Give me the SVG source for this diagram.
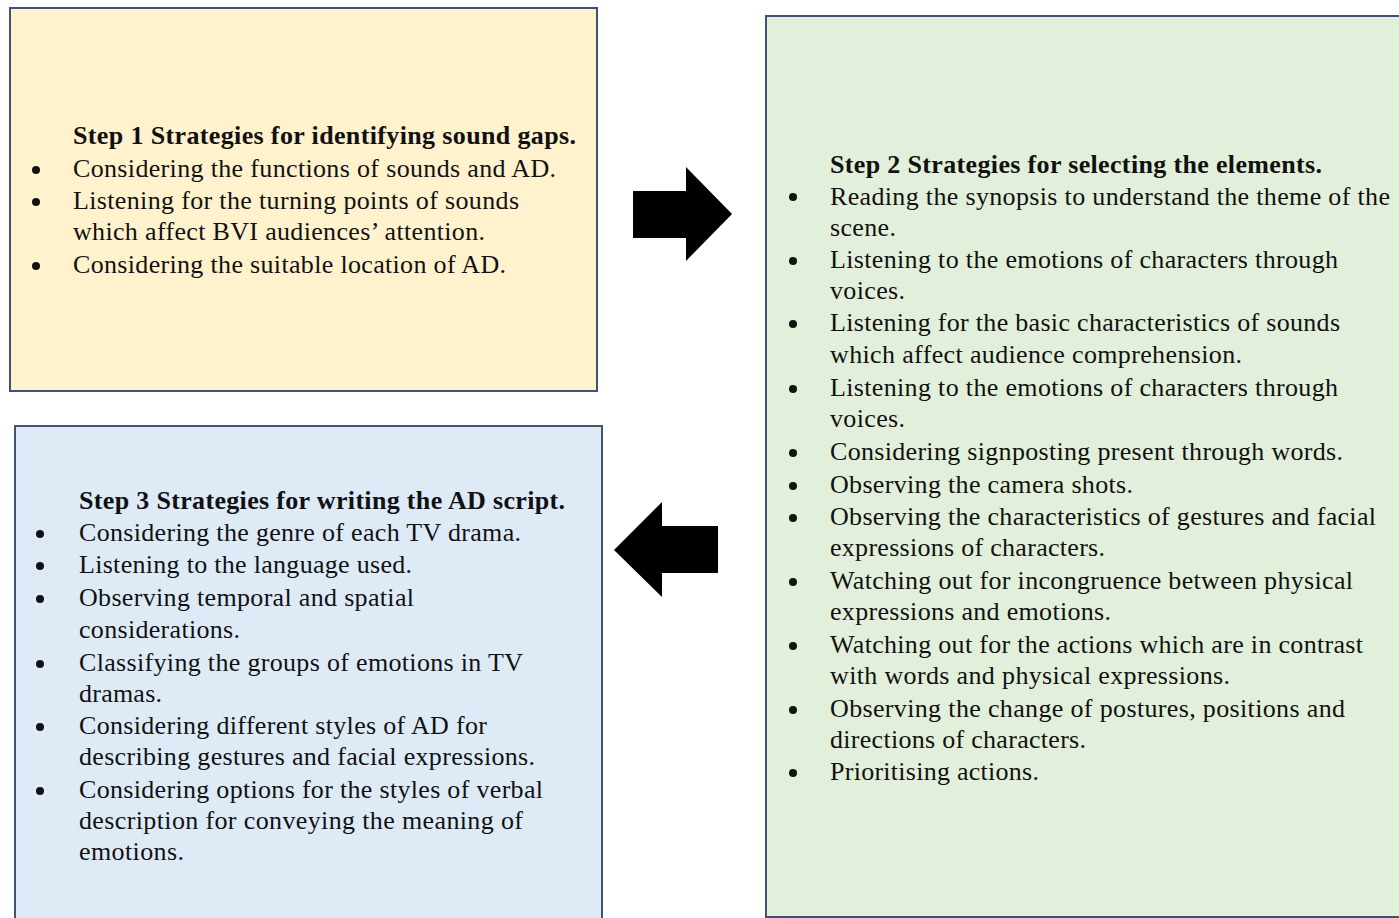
<svg xmlns="http://www.w3.org/2000/svg" width="1399" height="918" viewBox="0 0 1399 918">
<style>
.box{stroke:#3f5378;stroke-width:2}
.t{font-family:"Liberation Serif","Times New Roman",serif;font-size:26px;fill:#111}
.h{font-weight:bold}
.b{fill:#111}
.arrow{fill:#000}
</style>
<rect width="1399" height="918" fill="#fff"/>
<g id="step1">
<rect class="box" x="10" y="8" width="587" height="383" fill="#FFF2CC"/>
<text class="t h" x="73" y="144" textLength="503">Step 1 Strategies for identifying sound gaps.</text>
<circle class="b" cx="36" cy="170" r="4"/>
<text class="t" x="73" y="177" textLength="483">Considering the functions of sounds and AD.</text>
<circle class="b" cx="36" cy="202" r="4"/>
<text class="t" x="73" y="209" textLength="446">Listening for the turning points of sounds</text>
<text class="t" x="73" y="240" textLength="412">which affect BVI audiences’ attention.</text>
<circle class="b" cx="36" cy="266" r="4"/>
<text class="t" x="73" y="273" textLength="433">Considering the suitable location of AD.</text>
</g>
<g id="step2">
<rect class="box" x="766" y="16" width="640" height="901" fill="#E2EFDA"/>
<text class="t h" x="830" y="173" textLength="492">Step 2 Strategies for selecting the elements.</text>
<circle class="b" cx="793" cy="197" r="4"/>
<text class="t" x="830" y="205" textLength="560">Reading the synopsis to understand the theme of the</text>
<text class="t" x="830" y="236" textLength="66">scene.</text>
<circle class="b" cx="793" cy="261" r="4"/>
<text class="t" x="830" y="268" textLength="508">Listening to the emotions of characters through</text>
<text class="t" x="830" y="299" textLength="75">voices.</text>
<circle class="b" cx="793" cy="324" r="4"/>
<text class="t" x="830" y="331" textLength="510">Listening for the basic characteristics of sounds</text>
<text class="t" x="830" y="363" textLength="412">which affect audience comprehension.</text>
<circle class="b" cx="793" cy="389" r="4"/>
<text class="t" x="830" y="396" textLength="508">Listening to the emotions of characters through</text>
<text class="t" x="830" y="427" textLength="75">voices.</text>
<circle class="b" cx="793" cy="453" r="4"/>
<text class="t" x="830" y="460" textLength="513">Considering signposting present through words.</text>
<circle class="b" cx="793" cy="486" r="4"/>
<text class="t" x="830" y="493" textLength="303">Observing the camera shots.</text>
<circle class="b" cx="793" cy="518" r="4"/>
<text class="t" x="830" y="525" textLength="546">Observing the characteristics of gestures and facial</text>
<text class="t" x="830" y="556" textLength="275">expressions of characters.</text>
<circle class="b" cx="793" cy="582" r="4"/>
<text class="t" x="830" y="589" textLength="523">Watching out for incongruence between physical</text>
<text class="t" x="830" y="620" textLength="281">expressions and emotions.</text>
<circle class="b" cx="793" cy="646" r="4"/>
<text class="t" x="830" y="653" textLength="533">Watching out for the actions which are in contrast</text>
<text class="t" x="830" y="684" textLength="400">with words and physical expressions.</text>
<circle class="b" cx="793" cy="710" r="4"/>
<text class="t" x="830" y="717" textLength="515">Observing the change of postures, positions and</text>
<text class="t" x="830" y="748" textLength="256">directions of characters.</text>
<circle class="b" cx="793" cy="773" r="4"/>
<text class="t" x="830" y="780" textLength="209">Prioritising actions.</text>
</g>
<g id="step3">
<rect class="box" x="15" y="426" width="587" height="500" fill="#DEEBF7"/>
<text class="t h" x="79" y="509" textLength="486">Step 3 Strategies for writing the AD script.</text>
<circle class="b" cx="40" cy="534" r="4"/>
<text class="t" x="79" y="541" textLength="442">Considering the genre of each TV drama.</text>
<circle class="b" cx="40" cy="566" r="4"/>
<text class="t" x="79" y="573" textLength="333">Listening to the language used.</text>
<circle class="b" cx="40" cy="599" r="4"/>
<text class="t" x="79" y="606" textLength="335">Observing temporal and spatial</text>
<text class="t" x="79" y="638" textLength="161">considerations.</text>
<circle class="b" cx="40" cy="664" r="4"/>
<text class="t" x="79" y="671" textLength="444">Classifying the groups of emotions in TV</text>
<text class="t" x="79" y="702" textLength="83">dramas.</text>
<circle class="b" cx="40" cy="727" r="4"/>
<text class="t" x="79" y="734" textLength="408">Considering different styles of AD for</text>
<text class="t" x="79" y="765" textLength="456">describing gestures and facial expressions.</text>
<circle class="b" cx="40" cy="791" r="4"/>
<text class="t" x="79" y="798" textLength="464">Considering options for the styles of verbal</text>
<text class="t" x="79" y="829" textLength="444">description for conveying the meaning of</text>
<text class="t" x="79" y="860" textLength="105">emotions.</text>
</g>
<g id="connectors">
<polygon class="arrow" points="633,191 686,191 686,167 732,214 686,261 686,238 633,238"/>
<polygon class="arrow" points="718,526 662,526 662,502 614,550 662,597 662,573 718,573"/>
</g>
</svg>
